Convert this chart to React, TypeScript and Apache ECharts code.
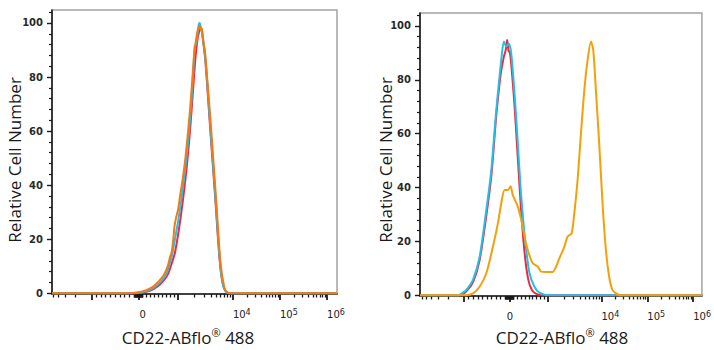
import React, { useEffect, useRef } from "react";
import * as echarts from "echarts";

// Display positions on the biexponential axis (decade units: 0 -> 0, 10^4 -> 2, 10^5 -> 3, 10^6 -> 4)
// Left panel (isotype controls and CD22 stained, all overlapping)
const leftRedPos = [-1.84, -0.1, 0.1, 0.25, 0.4, 0.52, 0.62, 0.7, 0.77, 0.83, 0.89, 0.95, 1.01, 1.07, 1.12, 1.17, 1.21, 1.25, 1.285, 1.31, 1.34, 1.37, 1.41, 1.45, 1.49, 1.53, 1.58, 1.63, 1.68, 1.72, 1.76, 1.8, 1.85, 1.92, 4.21];
const leftRedVal = [0, 0, 0.3, 1, 2.5, 4.5, 7, 11, 15, 21, 28, 36, 45, 56, 67, 79, 88, 94, 97, 98.5, 97, 93, 87, 78, 68, 58, 46, 34, 21, 12, 6, 2.5, 0.7, 0, 0];
const leftCyanPos = [-1.84, -0.15, 0.05, 0.2, 0.35, 0.48, 0.58, 0.66, 0.72, 0.78, 0.84, 0.9, 0.96, 1.02, 1.07, 1.12, 1.16, 1.19, 1.22, 1.25, 1.275, 1.295, 1.32, 1.35, 1.38, 1.42, 1.46, 1.5, 1.54, 1.59, 1.64, 1.69, 1.73, 1.77, 1.81, 1.86, 1.93, 4.21];
const leftCyanVal = [0, 0, 0.3, 1, 2.5, 4.5, 7, 11, 15, 21, 27, 34, 42, 51, 60, 71, 82, 91.5, 92, 96, 99.5, 100, 98, 96, 92, 86, 77, 67, 57, 45, 33, 20, 11, 5, 2, 0.5, 0, 0];
const leftOrangePos = [-1.84, -0.219, -0.098, 0.03, 0.157, 0.242, 0.327, 0.391, 0.454, 0.524, 0.582, 0.624, 0.667, 0.703, 0.73, 0.762, 0.794, 0.837, 0.879, 0.932, 0.985, 1.038, 1.091, 1.134, 1.176, 1.219, 1.251, 1.289, 1.314, 1.34, 1.367, 1.41, 1.452, 1.48, 1.537, 1.586, 1.643, 1.692, 1.728, 1.764, 1.803, 1.834, 1.887, 1.941, 4.21];
const leftOrangeVal = [0, 0, 0.2, 0.5, 1.2, 1.8, 2.8, 3.8, 5, 6.5, 8.5, 10.5, 13.5, 15.5, 19, 25, 28, 31, 36, 42, 49, 58, 68, 78, 88, 94, 97, 99, 97.5, 98, 94, 89, 80, 74, 61, 49, 35, 22, 13, 7.4, 3.5, 1.3, 0.4, 0, 0];

// Right panel
const rightRedPos = [-1.96, -1.1, -0.95, -0.8, -0.66, -0.51, -0.4, -0.3, -0.2, -0.13, -0.09, -0.06, -0.03, 0.0, 0.03, 0.1, 0.17, 0.24, 0.32, 0.4, 0.48, 0.58, 0.7, 4.19];
const rightRedVal = [0, 0, 1.5, 5, 13, 30, 45, 66, 82, 88.6, 91, 94.8, 91, 90, 86, 71, 52, 33, 16, 6, 2, 0.5, 0, 0];
const rightCyanPos = [-1.96, -1.13, -1.04, -0.948, -0.804, -0.659, -0.513, -0.404, -0.296, -0.187, -0.13, -0.078, -0.022, 0.03, 0.102, 0.174, 0.248, 0.341, 0.428, 0.537, 0.646, 0.863, 4.19];
const rightCyanVal = [0, 0, 0.8, 2, 5.7, 14.3, 31.7, 46.5, 68.8, 87.4, 94.2, 92.3, 93.5, 89.8, 75, 56.4, 36.7, 19.4, 8.3, 3.2, 1, 0, 0];
const rightOrangePos = [-1.96, -0.948, -0.804, -0.659, -0.513, -0.37, -0.261, -0.187, -0.115, -0.043, 0.015, 0.065, 0.174, 0.248, 0.32, 0.413, 0.5, 0.609, 0.683, 0.791, 0.935, 1.009, 1.08, 1.189, 1.261, 1.348, 1.407, 1.478, 1.552, 1.624, 1.696, 1.77, 1.82, 1.878, 1.95, 2.022, 2.096, 2.167, 2.239, 2.348, 2.457, 4.19];
const rightOrangeVal = [0, 0, 0.7, 3.2, 8.2, 18, 26.7, 34.2, 39.1, 39.1, 40.5, 37.2, 32.9, 28, 21.8, 15.6, 11.9, 10.7, 8.8, 8.7, 8.7, 10.7, 13.7, 18, 21.8, 23, 30.5, 42.8, 60.2, 76, 87.3, 94.2, 91, 76, 56.3, 34.2, 16.8, 6.9, 2, 0.4, 0, 0];

// Axis tick values (intensity), mapped to display positions
const majorTickValues = [-1000, 0, 1000, 10000, 100000, 1000000];
const labelledDecades = [10000, 100000, 1000000];
const yTickValues = [0, 20, 40, 60, 80, 100];

const yTitle = "Relative Cell Number";

const RED = "#f0283c";
const CYAN = "#22c0e8";
const ORANGE_L = "#f57a12";
const ORANGE_R = "#f5a00a";

function toD(v: number): number {
  if (v === 0) return 0;
  const a = Math.abs(v);
  if (a <= 1000) return v > 0 ? (0.83 * a) / 1000 : -a / 1000;
  const l = Math.log10(a) - 3;
  if (v > 0) return l <= 1 ? 0.83 + 1.17 * l : 2 + (l - 1);
  return -1 - 1.17 * l;
}

function minorValues(): number[] {
  const out: number[] = [];
  for (let k = 1; k <= 9; k++) {
    out.push(k * 10, -k * 10, k * 100, -k * 100);
    if (k >= 2) out.push(k * 1000, -k * 1000, k * 10000, k * 100000);
  }
  return out;
}

function pairs(xs: number[], ys: number[]) {
  return xs.map((x, i) => [x, ys[i]]);
}

export default function App() {
  const ref = useRef<HTMLDivElement>(null);
  useEffect(() => {
    document.body.style.margin = "0";
    if (!ref.current) return;
    const chart = echarts.init(ref.current, undefined, { renderer: "svg" });

    const ranges = [
      { min: -1.84, max: 4.21 },
      { min: -1.96, max: 4.19 },
    ];
    const grids = [
      { left: 52, right: 377, top: 10, bottom: 56 },
      { left: 420, right: 11, top: 13, bottom: 54 },
    ];
    const yMin = -0.25;
    const yMax = 104.8;

    const labelRich = {
      b: { fontSize: 10, fontFamily: "DejaVu Sans", color: "#222", lineHeight: 11, verticalAlign: "bottom" },
      p: { fontSize: 8, fontFamily: "DejaVu Sans", color: "#222", lineHeight: 8, verticalAlign: "top" },
    };

    const xAxes: any[] = [];
    const yAxes: any[] = [];
    ranges.forEach((r, gi) => {
      const inRange = (d: number) => d >= r.min && d <= r.max;
      const majorD = majorTickValues.map(toD).filter(inRange);
      const minorD = minorValues().map(toD).filter(inRange);
      const labelD = labelledDecades.map(toD);
      xAxes.push({
        type: "value",
        gridIndex: gi,
        position: "bottom",
        min: r.min,
        max: r.max,
        axisLine: { show: true, onZero: false, lineStyle: { color: "#1a1a1a", width: 1.6 } },
        axisTick: { show: true, inside: false, length: 6, customValues: majorD, lineStyle: { color: "#1a1a1a", width: 1.8 } },
        axisLabel: {
          show: true,
          customValues: labelD,
          align: "left",
          margin: 14,
          formatter: (v: number) => "{b|10}{p|" + Math.round(v + 2) + "}",
          rich: labelRich,
          lineHeight: 15,
        },
        splitLine: { show: false },
      });
      xAxes.push({
        type: "value",
        gridIndex: gi,
        position: "bottom",
        offset: 0,
        min: r.min,
        max: r.max,
        axisLine: { show: false, onZero: false },
        axisTick: { show: true, inside: false, length: 3.5, customValues: minorD, lineStyle: { color: "#1a1a1a", width: 1.3 } },
        axisLabel: {
          show: true,
          customValues: [0.0001],
          margin: 14,
          formatter: () => "{b|0}",
          rich: {
            b: { ...labelRich.b, padding: [0, 0, 0, gi === 0 ? 8 : 0] },
          },
          lineHeight: 15,
        },
        splitLine: { show: false },
      });
      const yMinor: number[] = [];
      for (let v = 4; v <= 104; v += 4) if (v % 20 !== 0) yMinor.push(v);
      yAxes.push({
        type: "value",
        gridIndex: gi,
        position: "left",
        min: yMin,
        max: yMax,
        axisLine: { show: true, onZero: false, lineStyle: { color: "#1a1a1a", width: 1.6 } },
        axisTick: { show: true, inside: false, length: 5, customValues: yTickValues, lineStyle: { color: "#1a1a1a", width: 1.4 } },
        axisLabel: {
          show: true,
          customValues: yTickValues,
          margin: 9,
          fontSize: 10,
          fontWeight: "bold",
          fontFamily: "DejaVu Sans",
          color: "#2a2a2a",
        },
        splitLine: { show: false },
      });
      yAxes.push({
        type: "value",
        gridIndex: gi,
        position: "left",
        offset: 0,
        min: yMin,
        max: yMax,
        axisLine: { show: false, onZero: false },
        axisTick: { show: true, inside: false, length: 3, customValues: yMinor, lineStyle: { color: "#1a1a1a", width: 1.2 } },
        axisLabel: { show: false },
        splitLine: { show: false },
      });
    });

    const line = (name: string, xi: number, yi: number, xs: number[], ys: number[], color: string, z: number) => ({
      name,
      type: "line",
      xAxisIndex: xi,
      yAxisIndex: yi,
      data: pairs(xs, ys),
      showSymbol: false,
      smooth: 0.25,
      z,
      lineStyle: { color, width: 2 },
      itemStyle: { color },
    });

    const xTitleEl = (x: number) => ({
      type: "text",
      x,
      y: 337,
      style: {
        text: "{a|CD22-ABflo}{s|®}{a| 488}",
        align: "center",
        verticalAlign: "middle",
        rich: {
          a: { fontSize: 17, fontFamily: "Open Sans", fill: "#1a1a1a", lineHeight: 20, verticalAlign: "middle" },
          s: { fontSize: 11, fontFamily: "Open Sans", fill: "#1a1a1a", lineHeight: 12, verticalAlign: "top" },
        },
      },
    });
    const yTitleEl = (x: number) => ({
      type: "text",
      x,
      y: 160,
      rotation: Math.PI / 2,
      style: { text: yTitle, align: "center", verticalAlign: "middle", fontSize: 17, fontFamily: "Open Sans", fill: "#1a1a1a" },
    });

    chart.setOption({
      animation: false,
      backgroundColor: "#ffffff",
      grid: grids.map((g) => ({ ...g, show: true, borderColor: "#a3a3a3", borderWidth: 1.5, backgroundColor: "#fff" })),
      xAxis: xAxes,
      yAxis: yAxes,
      series: [
        line("Red L", 0, 0, leftRedPos, leftRedVal, RED, 2),
        line("Cyan L", 0, 0, leftCyanPos, leftCyanVal, CYAN, 3),
        line("Orange L", 0, 0, leftOrangePos, leftOrangeVal, ORANGE_L, 4),
        line("Red R", 2, 2, rightRedPos, rightRedVal, RED, 2),
        line("Cyan R", 2, 2, rightCyanPos, rightCyanVal, CYAN, 3),
        line("Orange R", 2, 2, rightOrangePos, rightOrangeVal, ORANGE_R, 4),
      ],
      graphic: [xTitleEl(188), xTitleEl(562), yTitleEl(14), yTitleEl(385)],
    });
    return () => chart.dispose();
  }, []);
  return <div ref={ref} style={{ width: 714, height: 350 }} />;
}
